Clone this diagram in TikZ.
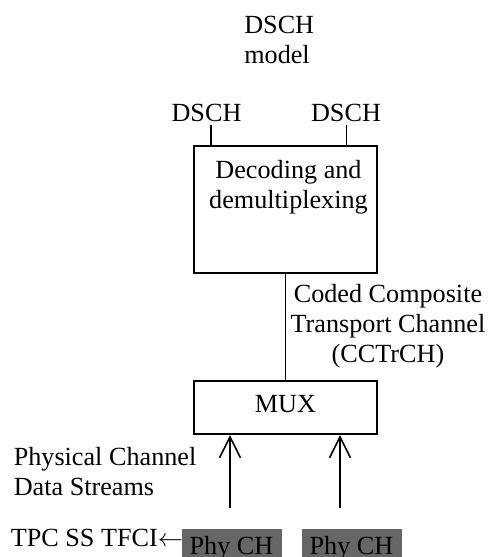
\documentclass[tikz,border=0pt]{standalone}
\usepackage{fontspec}
\setmainfont{Liberation Serif}
\usepackage{xcolor}
\usetikzlibrary{arrows.meta}
\definecolor{phygray}{HTML}{666666}

\begin{document}
\begin{tikzpicture}[line width=0.9pt,
  font=\fontsize{14.9pt}{17pt}\selectfont,
  >={Straight Barb[length=0.42cm,width=0.42cm,line width=0.9pt]},
  blk/.style={draw,minimum width=3.65cm,inner sep=0pt},
  phy/.style={fill=phygray,minimum width=2cm,inner xsep=0pt,inner ysep=0.16cm,anchor=north},
  txt/.style={inner sep=0pt}]
\useasboundingbox (0,0) rectangle (9.82,-11.14);
\clip (0,0) rectangle (9.82,-11.14);

\node[txt,align=left,anchor=north west] (model) at (4.87,-0.30) {DSCH\\model};
\node[txt,anchor=base] (dschl) at (4.13,-2.43) {DSCH};
\node[txt,anchor=base] (dschr) at (6.92,-2.43) {DSCH};

% decoding box
\node[blk,minimum height=2.55cm] (dec) at (5.71,-4.19) {};
\node[txt,align=center,anchor=north] (dectext) at (5.77,-3.19) {Decoding and\\demultiplexing};
\draw ([xshift=0.09cm,yshift=-0.05cm]dschl.south) -- ([xshift=0.09cm]dschl.south |- dec.north);
\draw ([xshift=0.01cm,yshift=-0.05cm]dschr.south) -- ([xshift=0.01cm]dschr.south |- dec.north);

% mux
\node[blk,minimum height=1.07cm,text depth=0.16cm] (mux) at (5.71,-8.15) {MUX};
\draw (dec.south) -- (mux.north);
\node[txt,align=center,anchor=north] (cctrch) at (7.76,-5.68) {Coded Composite\\Transport Channel\\(CCTrCH)};

\coordinate (in1) at (4.6,-10.16);
\coordinate (in2) at (6.8,-10.16);
\draw[->] (in1) -- (in1 |- mux.south);
\draw[->] (in2) -- (in2 |- mux.south);
\node[txt,align=left,anchor=north west] (streams) at (0.26,-8.94) {Physical Channel\\Data Streams};

\node[phy] (phy1) at (4.63,-10.56) {Phy CH};
\node[phy] (phy2) at (7.03,-10.56) {Phy CH};
\node[txt,anchor=base west] (tfci) at (0.2,-10.93) {TPC SS TFCI$\leftarrow$};
\end{tikzpicture}
\end{document}
